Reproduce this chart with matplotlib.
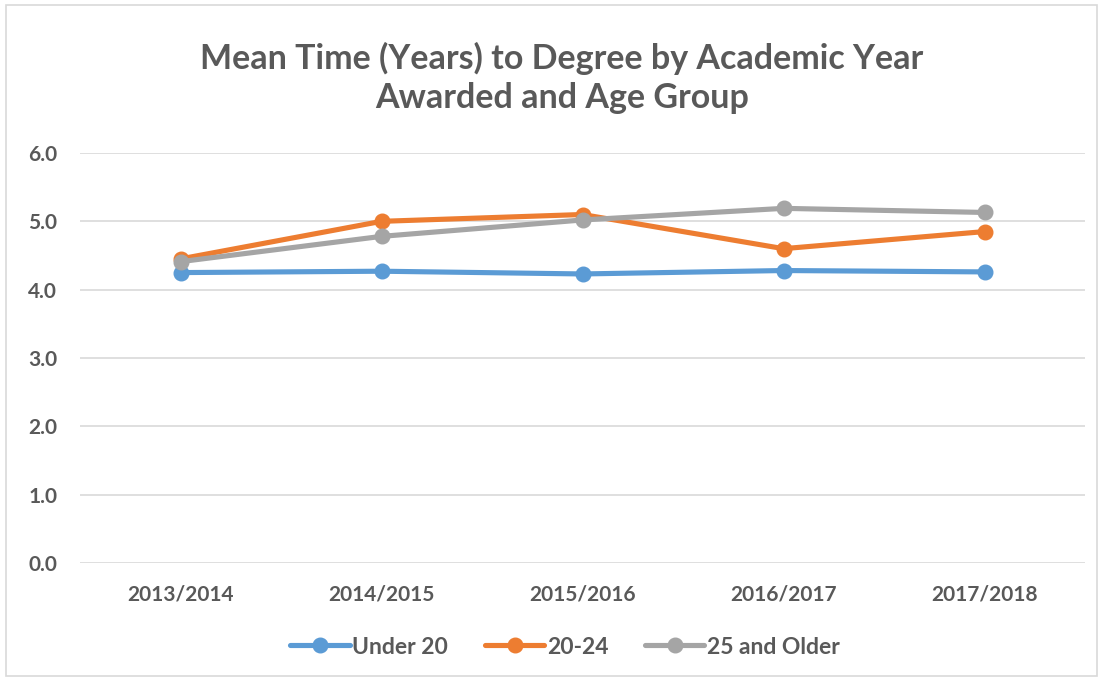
import matplotlib.pyplot as plt
from matplotlib.patches import Rectangle

years = ['2013/2014', '2014/2015', '2015/2016', '2016/2017', '2017/2018']
under_20 = [4.25, 4.27, 4.23, 4.28, 4.26]
age_20_24 = [4.45, 5.00, 5.10, 4.60, 4.85]
age_25_plus = [4.41, 4.78, 5.02, 5.19, 5.13]

series_names = ['Under 20', '20-24', '25 and Older']
colors = ['#5B9BD5', '#ED7D31', '#A5A5A5']
text_color = '#595959'

plt.rcParams['font.family'] = ['Lato', 'DejaVu Sans']

W, H = 1103, 681
fig = plt.figure(figsize=(W / 100, H / 100), dpi=100)
fig.patch.set_facecolor('white')
fig.add_artist(Rectangle((6 / W, 5 / H), 1 - 12 / W, 1 - 10 / H, transform=fig.transFigure,
                         fill=False, edgecolor='#D9D9D9', linewidth=1.2))

ax = fig.add_axes([80 / W, (H - 563) / H, 1005 / W, (563 - 153) / H])
x = range(len(years))
for vals, name, col in zip([under_20, age_20_24, age_25_plus], series_names, colors):
    ax.plot(x, vals, color=col, linewidth=3.7, marker='o', markersize=10.5,
            label=name, solid_capstyle='round')

ax.set_xlim(-0.5, len(years) - 0.5)
ax.set_ylim(0, 6)
ax.set_yticks([0, 1, 2, 3, 4, 5, 6])
ax.set_yticklabels([f'{v:.1f}' for v in range(7)])
ax.set_xticks(list(x))
ax.set_xticklabels(years)
ax.grid(axis='y', color='#D9D9D9', linewidth=1.2)
ax.set_axisbelow(True)
for s in ax.spines.values():
    s.set_visible(False)
ax.tick_params(length=0, labelsize=15, labelcolor=text_color)
ax.tick_params(axis='x', pad=15.5)
ax.tick_params(axis='y', pad=16.5)
for lbl in ax.get_xticklabels() + ax.get_yticklabels():
    lbl.set_fontweight('bold')

fig.text(562 / W, 1 - 78 / H, 'Mean Time (Years) to Degree by Academic Year\nAwarded and Age Group',
         ha='center', va='center', fontsize=24.5, fontweight='bold', color=text_color, linespacing=1.3)

leg = fig.legend(loc='center', bbox_to_anchor=(565 / W, 1 - 647 / H), ncol=3, frameon=False,
                 fontsize=16.5, handlelength=2.6, handletextpad=0.1, columnspacing=1.6)
for t in leg.get_texts():
    t.set_color(text_color)
    t.set_fontweight('bold')

fig.savefig('out.png', dpi=100)
